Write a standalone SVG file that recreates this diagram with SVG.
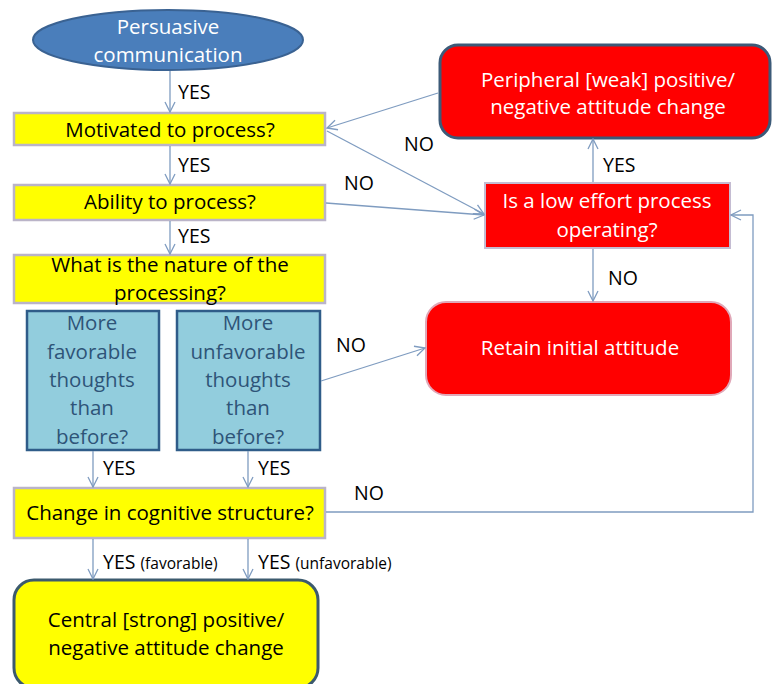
<svg xmlns="http://www.w3.org/2000/svg" width="772" height="684" viewBox="0 0 772 684">
<defs>
<marker id="arr" viewBox="0 0 12 12" refX="11" refY="6" markerWidth="12" markerHeight="12" markerUnits="userSpaceOnUse" orient="auto">
<path d="M1,1 L11,6 L1,11" fill="none" stroke="#7f9cc0" stroke-width="1.3"/>
</marker>
<style>
text{font-family:"Open Sans",Lato,"Liberation Sans",sans-serif;font-size:20.5px;text-anchor:middle}
.lbl{fill:#000;text-anchor:start;font-size:19.5px}
.sm{font-size:15.5px}
.w{fill:#fff}
.k{fill:#000}
.b{fill:#2e5478}
.yel{fill:#ffff00;stroke:#bab4c8;stroke-width:2.5}
.blu{fill:#92cddd;stroke:#2f5c89;stroke-width:2.5}
.red{fill:#ff0000}
.ln{fill:none;stroke:#7f9cc0;stroke-width:1.3;marker-end:url(#arr)}
</style>
</defs>
<rect width="772" height="684" fill="#fff"/>
<g id="start">
<ellipse cx="168" cy="40" rx="135" ry="30" fill="#4a7ebb" stroke="#3a6292" stroke-width="2"/>
<text class="w" x="168" y="34">Persuasive</text>
<text class="w" x="168" y="62">communication</text>
</g>
<g id="motivated">
<rect class="yel" x="14" y="113" width="311" height="32"/>
<text class="k" x="170" y="137">Motivated to process?</text>
</g>
<g id="ability">
<rect class="yel" x="14" y="185" width="311" height="35"/>
<text class="k" x="170" y="209">Ability to process?</text>
</g>
<g id="nature">
<rect class="yel" x="14" y="255" width="311" height="48"/>
<text class="k" x="170" y="272">What is the nature of the</text>
<text class="k" x="170" y="300">processing?</text>
</g>
<g id="favorable">
<rect class="blu" x="27" y="311" width="132" height="139"/>
<text class="b" x="92" y="330">More</text>
<text class="b" x="92" y="359">favorable</text>
<text class="b" x="92" y="387">thoughts</text>
<text class="b" x="92" y="415">than</text>
<text class="b" x="92" y="444">before?</text>
</g>
<g id="unfavorable">
<rect class="blu" x="177" y="311" width="143" height="139"/>
<text class="b" x="248" y="330">More</text>
<text class="b" x="248" y="359">unfavorable</text>
<text class="b" x="248" y="387">thoughts</text>
<text class="b" x="248" y="415">than</text>
<text class="b" x="248" y="444">before?</text>
</g>
<g id="change">
<rect class="yel" x="14" y="488" width="311" height="50"/>
<text class="k" x="170" y="520">Change in cognitive structure?</text>
</g>
<g id="central">
<rect x="14" y="580" width="304" height="108" rx="20" fill="#ffff00" stroke="#3c5a6e" stroke-width="3"/>
<text class="k" x="166" y="627">Central [strong] positive/</text>
<text class="k" x="166" y="655">negative attitude change</text>
</g>
<g id="peripheral">
<rect class="red" x="440" y="45" width="330" height="93" rx="18" stroke="#3c5a78" stroke-width="3"/>
<text class="w" x="608" y="87">Peripheral [weak] positive/</text>
<text class="w" x="608" y="114">negative attitude change</text>
</g>
<g id="loweffort">
<rect class="red" x="485" y="183" width="245" height="65" stroke="#c4bcd2" stroke-width="2"/>
<text class="w" x="607" y="208">Is a low effort process</text>
<text class="w" x="607" y="237">operating?</text>
</g>
<g id="retain">
<rect class="red" x="426" y="302" width="305" height="93" rx="20" stroke="#e0a8b8" stroke-width="2"/>
<text class="w" x="580" y="355">Retain initial attitude</text>
</g>
<g id="connectors">
<path class="ln" d="M170,71 L170,112"/>
<path class="ln" d="M170,146 L170,184"/>
<path class="ln" d="M170,221 L170,254"/>
<path class="ln" d="M438,93 L327,128"/>
<path class="ln" d="M327,131 L484,214"/>
<path class="ln" d="M326,203 L484,215"/>
<path class="ln" d="M593,182 L593,139"/>
<path class="ln" d="M593,249 L593,301"/>
<path class="ln" d="M321,381 L425,348"/>
<path class="ln" d="M93,451 L93,487"/>
<path class="ln" d="M248,451 L248,487"/>
<path class="ln" d="M326,512 L753,512 L753,215 L731,215"/>
<path class="ln" d="M93,539 L93,579"/>
<path class="ln" d="M248,539 L248,579"/>
<text class="lbl" x="178" y="99">YES</text>
<text class="lbl" x="178" y="172">YES</text>
<text class="lbl" x="178" y="243">YES</text>
<text class="lbl" x="404" y="151">NO</text>
<text class="lbl" x="344" y="190">NO</text>
<text class="lbl" x="603" y="172">YES</text>
<text class="lbl" x="608" y="285">NO</text>
<text class="lbl" x="336" y="352">NO</text>
<text class="lbl" x="103" y="475">YES</text>
<text class="lbl" x="258" y="475">YES</text>
<text class="lbl" x="354" y="500">NO</text>
<text class="lbl" x="103" y="569">YES <tspan class="sm">(favorable)</tspan></text>
<text class="lbl" x="258" y="569">YES <tspan class="sm">(unfavorable)</tspan></text>
</g>
</svg>
